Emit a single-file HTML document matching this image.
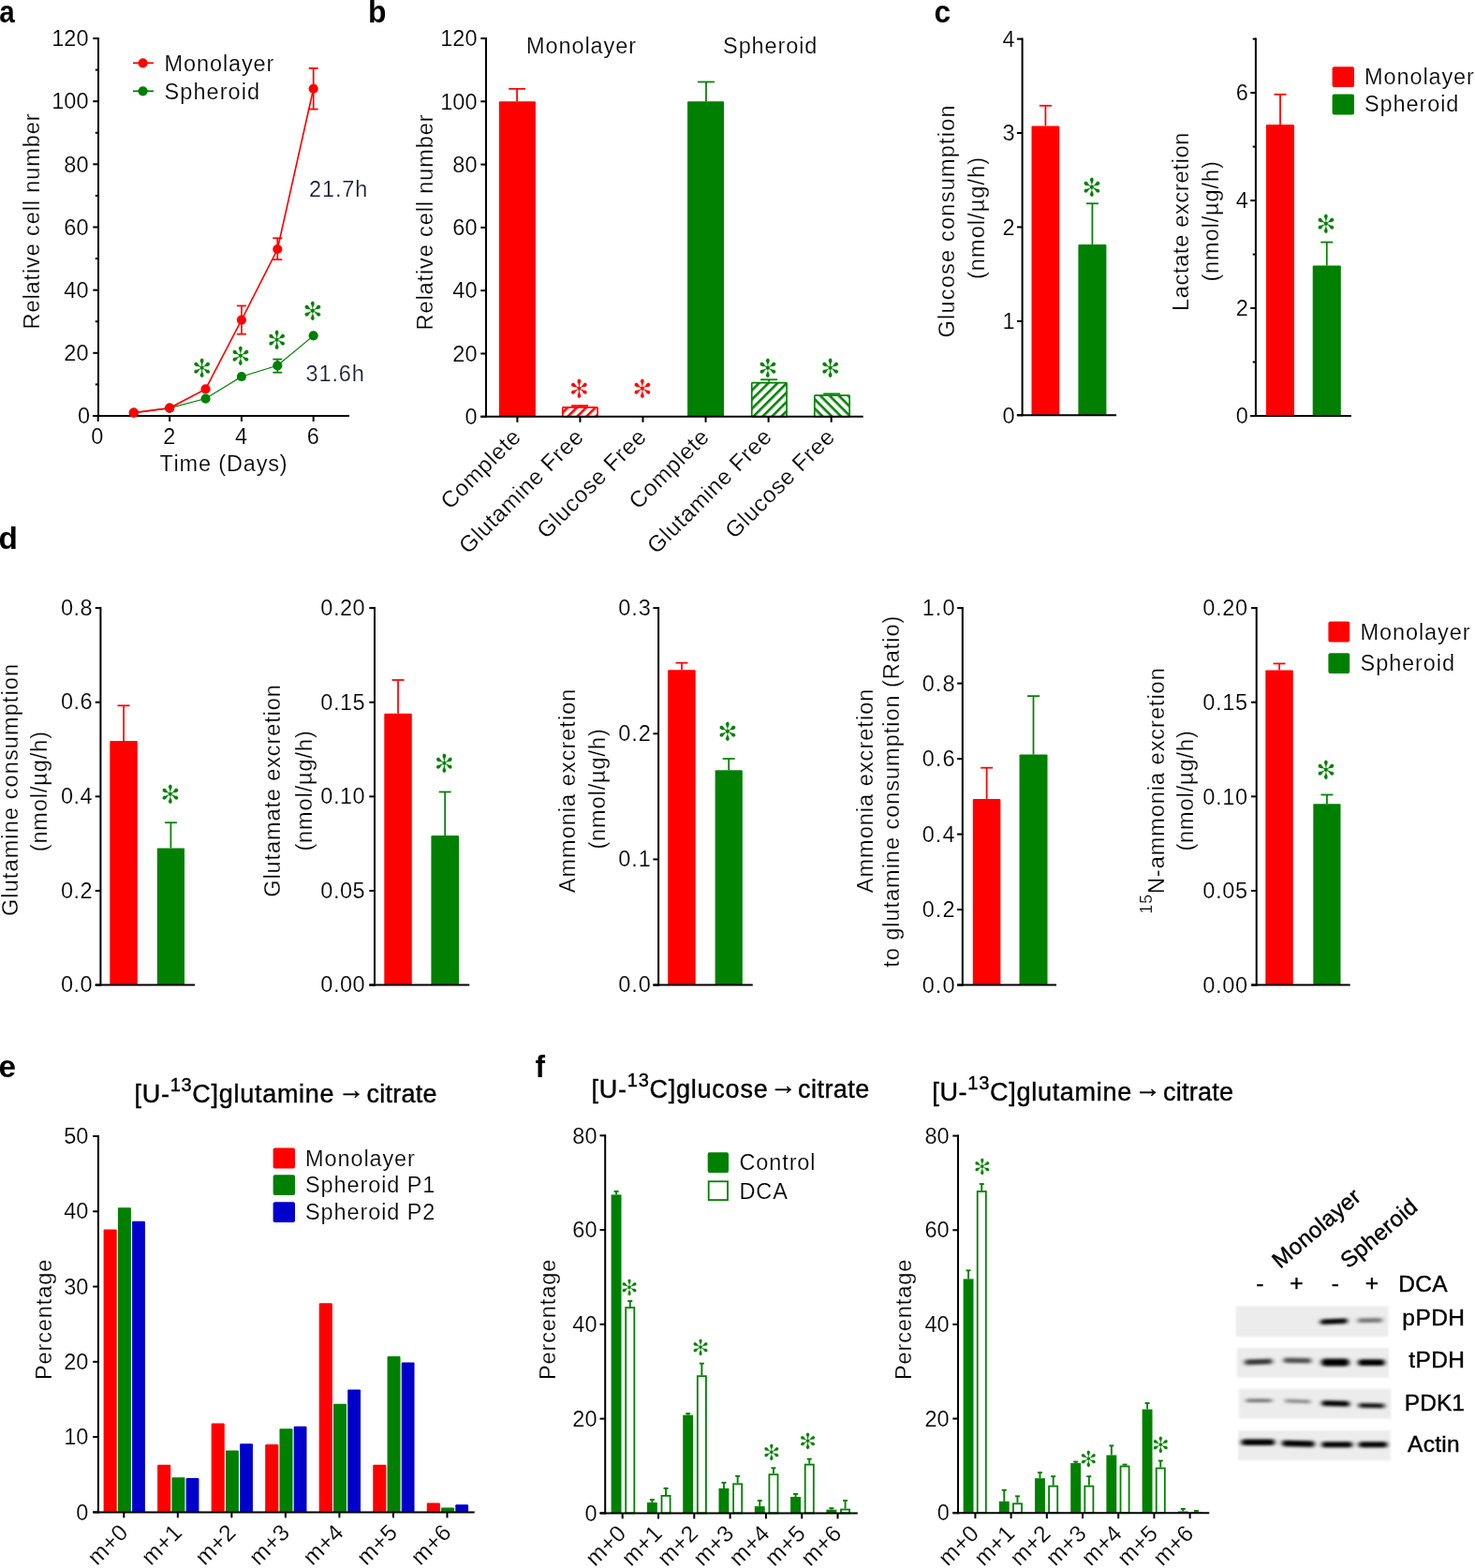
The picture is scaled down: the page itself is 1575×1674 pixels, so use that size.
<!DOCTYPE html>
<html lang="en"><head><meta charset="utf-8"><title>Figure</title>
<style>
html,body{margin:0;padding:0;background:#fff;}
body{width:1575px;height:1674px;overflow:hidden;}
svg{display:block;font-family:"Liberation Sans",Arial,Helvetica,sans-serif;font-kerning:none;}
.t{stroke:#fff;stroke-width:0.2px;paint-order:fill;}
</style></head><body>
<svg width="1575" height="1674" viewBox="0 0 1575 1674">
<rect width="1575" height="1674" fill="#fff"/>
<text transform="translate(-0.80 23.90) scale(0.87 1)" font-size="34" font-weight="bold" fill="#000">a</text>
<text transform="translate(393.00 24.00) scale(0.94 1)" font-size="34" font-weight="bold" fill="#000">b</text>
<text transform="translate(997.60 24.00) scale(0.93 1)" font-size="34" font-weight="bold" fill="#000">c</text>
<text transform="translate(-1.40 586.00) scale(0.98 1)" font-size="34" font-weight="bold" fill="#000">d</text>
<text transform="translate(-1.50 1150.20) scale(0.98 1)" font-size="34" font-weight="bold" fill="#000">e</text>
<text transform="translate(571.60 1150.20) scale(0.93 1)" font-size="34" font-weight="bold" fill="#000">f</text>
<defs>
<pattern id="hr" width="7" height="7" patternUnits="userSpaceOnUse" patternTransform="rotate(-45)"><rect width="7" height="7" fill="#fff"/><rect width="7" height="2.6" fill="#ff0000"/></pattern>
<pattern id="hg" width="7" height="7" patternUnits="userSpaceOnUse" patternTransform="rotate(-45)"><rect width="7" height="7" fill="#fff"/><rect width="7" height="2.6" fill="#008000"/></pattern>
<pattern id="hg2" width="7" height="7" patternUnits="userSpaceOnUse" patternTransform="rotate(45)"><rect width="7" height="7" fill="#fff"/><rect width="7" height="2.6" fill="#008000"/></pattern>
<filter id="bl" x="-30%" y="-300%" width="160%" height="700%"><feGaussianBlur stdDeviation="2.4 1.7"/></filter>
<filter id="bl2" x="-5%" y="-20%" width="110%" height="140%"><feGaussianBlur stdDeviation="0.8"/></filter>
</defs>
<line x1="105.00" y1="40.00" x2="105.00" y2="445.00" stroke="#000" stroke-width="2" />
<line x1="99.30" y1="376.83" x2="105.00" y2="376.83" stroke="#000" stroke-width="2" />
<text x="68.36" y="385.03" font-size="23.5" fill="#000" class="t">20</text>
<line x1="99.30" y1="309.67" x2="105.00" y2="309.67" stroke="#000" stroke-width="2" />
<text x="68.36" y="317.87" font-size="23.5" fill="#000" class="t">40</text>
<line x1="99.30" y1="242.50" x2="105.00" y2="242.50" stroke="#000" stroke-width="2" />
<text x="68.36" y="250.70" font-size="23.5" fill="#000" class="t">60</text>
<line x1="99.30" y1="175.33" x2="105.00" y2="175.33" stroke="#000" stroke-width="2" />
<text x="68.36" y="183.53" font-size="23.5" fill="#000" class="t">80</text>
<line x1="99.30" y1="108.17" x2="105.00" y2="108.17" stroke="#000" stroke-width="2" />
<text x="55.29" y="116.37" font-size="23.5" fill="#000" class="t">100</text>
<line x1="99.30" y1="41.00" x2="105.00" y2="41.00" stroke="#000" stroke-width="2" />
<text x="55.29" y="49.20" font-size="23.5" fill="#000" class="t">120</text>
<line x1="101.80" y1="410.42" x2="105.00" y2="410.42" stroke="#000" stroke-width="2" />
<line x1="101.80" y1="343.25" x2="105.00" y2="343.25" stroke="#000" stroke-width="2" />
<line x1="101.80" y1="276.08" x2="105.00" y2="276.08" stroke="#000" stroke-width="2" />
<line x1="101.80" y1="208.92" x2="105.00" y2="208.92" stroke="#000" stroke-width="2" />
<line x1="101.80" y1="141.75" x2="105.00" y2="141.75" stroke="#000" stroke-width="2" />
<line x1="101.80" y1="74.58" x2="105.00" y2="74.58" stroke="#000" stroke-width="2" />
<line x1="105.00" y1="40.00" x2="105.00" y2="445.00" stroke="#000" stroke-width="2" />
<line x1="99.30" y1="444.00" x2="105.00" y2="444.00" stroke="#000" stroke-width="2" />
<text x="82.93" y="452.20" font-size="23.5" fill="#000" class="t">0</text>
<line x1="99.30" y1="444.00" x2="373.00" y2="444.00" stroke="#000" stroke-width="2" />
<line x1="104.70" y1="444.00" x2="104.70" y2="450.00" stroke="#000" stroke-width="2" />
<line x1="181.16" y1="444.00" x2="181.16" y2="450.00" stroke="#000" stroke-width="2" />
<line x1="257.92" y1="444.00" x2="257.92" y2="450.00" stroke="#000" stroke-width="2" />
<line x1="334.68" y1="444.00" x2="334.68" y2="450.00" stroke="#000" stroke-width="2" />
<text x="97.37" y="474.00" font-size="23.5" fill="#000" class="t">0</text>
<text x="174.13" y="474.00" font-size="23.5" fill="#000" class="t">2</text>
<text x="250.89" y="474.00" font-size="23.5" fill="#000" class="t">4</text>
<text x="327.65" y="474.00" font-size="23.5" fill="#000" class="t">6</text>
<text x="170.38" y="502.80" font-size="23.5" fill="#000" letter-spacing="0.830" class="t">Time (Days)</text>
<text x="42.00" y="351.45" font-size="23.5" fill="#000" transform="rotate(-90 42.00 351.45)" letter-spacing="0.900" class="t">Relative cell number</text>
<polyline fill="none" stroke="#008000" stroke-width="1.25" points="142.78,440.64 181.16,435.60 219.54,425.53 257.92,402.02 296.30,390.27 334.68,358.36"/>
<circle cx="142.78" cy="440.64" r="5.1" fill="#008000"/>
<circle cx="181.16" cy="435.60" r="5.1" fill="#008000"/>
<circle cx="219.54" cy="425.53" r="5.1" fill="#008000"/>
<circle cx="257.92" cy="402.02" r="5.1" fill="#008000"/>
<line x1="296.30" y1="383.55" x2="296.30" y2="397.65" stroke="#008000" stroke-width="1.75" />
<line x1="291.30" y1="383.55" x2="301.30" y2="383.55" stroke="#008000" stroke-width="1.75" />
<line x1="291.30" y1="397.65" x2="301.30" y2="397.65" stroke="#008000" stroke-width="1.75" />
<circle cx="296.30" cy="390.27" r="5.1" fill="#008000"/>
<circle cx="334.68" cy="358.36" r="5.1" fill="#008000"/>
<polyline fill="none" stroke="#ff0000" stroke-width="1.65" points="142.78,440.64 181.16,435.60 219.54,415.45 257.92,341.57 296.30,266.01 334.68,94.73"/>
<circle cx="142.78" cy="440.64" r="5.1" fill="#ff0000"/>
<circle cx="181.16" cy="435.60" r="5.1" fill="#ff0000"/>
<circle cx="219.54" cy="415.45" r="5.1" fill="#ff0000"/>
<line x1="257.92" y1="326.46" x2="257.92" y2="356.68" stroke="#ff0000" stroke-width="1.75" />
<line x1="252.92" y1="326.46" x2="262.92" y2="326.46" stroke="#ff0000" stroke-width="1.75" />
<line x1="252.92" y1="356.68" x2="262.92" y2="356.68" stroke="#ff0000" stroke-width="1.75" />
<circle cx="257.92" cy="341.57" r="5.1" fill="#ff0000"/>
<line x1="296.30" y1="254.25" x2="296.30" y2="277.09" stroke="#ff0000" stroke-width="1.75" />
<line x1="291.30" y1="254.25" x2="301.30" y2="254.25" stroke="#ff0000" stroke-width="1.75" />
<line x1="291.30" y1="277.09" x2="301.30" y2="277.09" stroke="#ff0000" stroke-width="1.75" />
<circle cx="296.30" cy="266.01" r="5.1" fill="#ff0000"/>
<line x1="334.68" y1="72.90" x2="334.68" y2="116.56" stroke="#ff0000" stroke-width="1.75" />
<line x1="329.68" y1="72.90" x2="339.68" y2="72.90" stroke="#ff0000" stroke-width="1.75" />
<line x1="329.68" y1="116.56" x2="339.68" y2="116.56" stroke="#ff0000" stroke-width="1.75" />
<circle cx="334.68" cy="94.73" r="5.1" fill="#ff0000"/>
<text x="0" y="0" font-family="'DejaVu Sans',sans-serif" font-size="27.6" text-anchor="middle" fill="#008000" stroke="#fff" stroke-width="0.45" paint-order="fill" transform="translate(215.70 392.70) scale(0.92 1)" dy="9.94">✻</text>
<text x="0" y="0" font-family="'DejaVu Sans',sans-serif" font-size="27.6" text-anchor="middle" fill="#008000" stroke="#fff" stroke-width="0.45" paint-order="fill" transform="translate(257.00 379.70) scale(0.92 1)" dy="9.94">✻</text>
<text x="0" y="0" font-family="'DejaVu Sans',sans-serif" font-size="27.6" text-anchor="middle" fill="#008000" stroke="#fff" stroke-width="0.45" paint-order="fill" transform="translate(295.60 362.70) scale(0.92 1)" dy="9.94">✻</text>
<text x="0" y="0" font-family="'DejaVu Sans',sans-serif" font-size="27.6" text-anchor="middle" fill="#008000" stroke="#fff" stroke-width="0.45" paint-order="fill" transform="translate(333.80 332.50) scale(0.92 1)" dy="9.94">✻</text>
<line x1="142.00" y1="67.30" x2="164.00" y2="67.30" stroke="#ff0000" stroke-width="1.8" />
<circle cx="152.6" cy="67.3" r="5.1" fill="#ff0000"/>
<line x1="142.00" y1="97.30" x2="164.00" y2="97.30" stroke="#008000" stroke-width="1.8" />
<circle cx="152.6" cy="97.3" r="5.1" fill="#008000"/>
<text x="175.50" y="75.70" font-size="23.5" fill="#000" letter-spacing="0.900" class="t">Monolayer</text>
<text x="175.50" y="105.50" font-size="23.5" fill="#000" letter-spacing="1.071" class="t">Spheroid</text>
<text x="330.00" y="210.00" font-size="23.5" fill="#1a1a38" letter-spacing="0.900" class="t">21.7h</text>
<text x="326.50" y="406.50" font-size="23.5" fill="#1a1a38" letter-spacing="0.900" class="t">31.6h</text>
<line x1="552.10" y1="94.84" x2="552.10" y2="108.30" stroke="#ff0000" stroke-width="1.75" />
<line x1="543.10" y1="94.84" x2="561.10" y2="94.84" stroke="#ff0000" stroke-width="1.75" />
<line x1="753.95" y1="87.44" x2="753.95" y2="108.30" stroke="#008000" stroke-width="1.75" />
<line x1="744.95" y1="87.44" x2="762.95" y2="87.44" stroke="#008000" stroke-width="1.75" />
<rect x="532.90" y="108.30" width="39.00" height="336.50" fill="#ff0000" rx="1"/>
<rect x="734.05" y="108.30" width="39.00" height="336.50" fill="#008000" rx="1"/>
<line x1="619.15" y1="433.02" x2="619.15" y2="434.03" stroke="#ff0000" stroke-width="1.75" />
<line x1="610.15" y1="433.02" x2="628.15" y2="433.02" stroke="#ff0000" stroke-width="1.75" />
<rect x="600.80" y="434.88" width="37.30" height="9.92" fill="url(#hr)" stroke="#ff0000" stroke-width="1.7" rx="0.8"/>
<line x1="821.10" y1="405.26" x2="821.10" y2="407.79" stroke="#008000" stroke-width="1.75" />
<line x1="812.10" y1="405.26" x2="830.10" y2="405.26" stroke="#008000" stroke-width="1.75" />
<rect x="802.75" y="408.64" width="37.30" height="36.16" fill="url(#hg)" stroke="#008000" stroke-width="1.7" rx="0.8"/>
<line x1="888.15" y1="420.40" x2="888.15" y2="421.25" stroke="#008000" stroke-width="1.75" />
<line x1="879.15" y1="420.40" x2="897.15" y2="420.40" stroke="#008000" stroke-width="1.75" />
<rect x="869.80" y="422.10" width="37.30" height="22.71" fill="url(#hg2)" stroke="#008000" stroke-width="1.7" rx="0.8"/>
<line x1="519.00" y1="40.00" x2="519.00" y2="445.80" stroke="#000" stroke-width="2" />
<line x1="513.30" y1="444.80" x2="519.00" y2="444.80" stroke="#000" stroke-width="2" />
<text x="496.43" y="453.00" font-size="23.5" fill="#000" class="t">0</text>
<line x1="513.30" y1="377.50" x2="519.00" y2="377.50" stroke="#000" stroke-width="2" />
<text x="483.36" y="385.70" font-size="23.5" fill="#000" class="t">20</text>
<line x1="513.30" y1="310.20" x2="519.00" y2="310.20" stroke="#000" stroke-width="2" />
<text x="483.36" y="318.40" font-size="23.5" fill="#000" class="t">40</text>
<line x1="513.30" y1="242.90" x2="519.00" y2="242.90" stroke="#000" stroke-width="2" />
<text x="483.36" y="251.10" font-size="23.5" fill="#000" class="t">60</text>
<line x1="513.30" y1="175.60" x2="519.00" y2="175.60" stroke="#000" stroke-width="2" />
<text x="483.36" y="183.80" font-size="23.5" fill="#000" class="t">80</text>
<line x1="513.30" y1="108.30" x2="519.00" y2="108.30" stroke="#000" stroke-width="2" />
<text x="470.29" y="116.50" font-size="23.5" fill="#000" class="t">100</text>
<line x1="513.30" y1="41.00" x2="519.00" y2="41.00" stroke="#000" stroke-width="2" />
<text x="470.29" y="49.20" font-size="23.5" fill="#000" class="t">120</text>
<line x1="513.30" y1="444.80" x2="921.70" y2="444.80" stroke="#000" stroke-width="2" />
<line x1="552.40" y1="444.80" x2="552.40" y2="450.80" stroke="#000" stroke-width="2" />
<line x1="619.45" y1="444.80" x2="619.45" y2="450.80" stroke="#000" stroke-width="2" />
<line x1="686.50" y1="444.80" x2="686.50" y2="450.80" stroke="#000" stroke-width="2" />
<line x1="753.55" y1="444.80" x2="753.55" y2="450.80" stroke="#000" stroke-width="2" />
<line x1="820.60" y1="444.80" x2="820.60" y2="450.80" stroke="#000" stroke-width="2" />
<line x1="887.65" y1="444.80" x2="887.65" y2="450.80" stroke="#000" stroke-width="2" />
<text x="562.09" y="57.00" font-size="23.5" fill="#000" letter-spacing="0.900" class="t">Monolayer</text>
<text x="772.07" y="57.00" font-size="23.5" fill="#000" letter-spacing="0.900" class="t">Spheroid</text>
<text x="462.00" y="352.45" font-size="23.5" fill="#000" transform="rotate(-90 462.00 352.45)" letter-spacing="0.900" class="t">Relative cell number</text>
<text x="480.48" y="544.82" font-size="24.3" fill="#000" transform="rotate(-45 480.48 544.82)" letter-spacing="0.650" class="t">Complete</text>
<text x="499.90" y="592.45" font-size="24.3" fill="#000" transform="rotate(-45 499.90 592.45)" letter-spacing="0.650" class="t">Glutamine Free</text>
<text x="583.15" y="576.25" font-size="24.3" fill="#000" transform="rotate(-45 583.15 576.25)" letter-spacing="0.650" class="t">Glucose Free</text>
<text x="681.63" y="544.82" font-size="24.3" fill="#000" transform="rotate(-45 681.63 544.82)" letter-spacing="0.650" class="t">Complete</text>
<text x="701.05" y="592.45" font-size="24.3" fill="#000" transform="rotate(-45 701.05 592.45)" letter-spacing="0.650" class="t">Glutamine Free</text>
<text x="784.30" y="576.25" font-size="24.3" fill="#000" transform="rotate(-45 784.30 576.25)" letter-spacing="0.650" class="t">Glucose Free</text>
<text x="0" y="0" font-family="'DejaVu Sans',sans-serif" font-size="27.6" text-anchor="middle" fill="#ff0000" stroke="#fff" stroke-width="0.45" paint-order="fill" transform="translate(618.50 414.70) scale(0.92 1)" dy="9.94">✻</text>
<text x="0" y="0" font-family="'DejaVu Sans',sans-serif" font-size="27.6" text-anchor="middle" fill="#ff0000" stroke="#fff" stroke-width="0.45" paint-order="fill" transform="translate(685.90 414.70) scale(0.92 1)" dy="9.94">✻</text>
<text x="0" y="0" font-family="'DejaVu Sans',sans-serif" font-size="27.6" text-anchor="middle" fill="#008000" stroke="#fff" stroke-width="0.45" paint-order="fill" transform="translate(820.00 393.20) scale(0.92 1)" dy="9.94">✻</text>
<text x="0" y="0" font-family="'DejaVu Sans',sans-serif" font-size="27.6" text-anchor="middle" fill="#008000" stroke="#fff" stroke-width="0.45" paint-order="fill" transform="translate(886.70 393.20) scale(0.92 1)" dy="9.94">✻</text>
<line x1="1116.40" y1="112.80" x2="1116.40" y2="134.40" stroke="#ff0000" stroke-width="1.75" />
<line x1="1109.90" y1="112.80" x2="1122.90" y2="112.80" stroke="#ff0000" stroke-width="1.75" />
<line x1="1166.40" y1="217.25" x2="1166.40" y2="260.93" stroke="#008000" stroke-width="1.75" />
<line x1="1159.90" y1="217.25" x2="1172.90" y2="217.25" stroke="#008000" stroke-width="1.75" />
<rect x="1101.50" y="134.40" width="29.80" height="308.90" fill="#ff0000" rx="1"/>
<rect x="1151.40" y="260.93" width="30.00" height="182.37" fill="#008000" rx="1"/>
<line x1="1091.60" y1="40.60" x2="1091.60" y2="444.30" stroke="#000" stroke-width="2" />
<line x1="1085.90" y1="443.30" x2="1091.60" y2="443.30" stroke="#000" stroke-width="2" />
<text x="1070.53" y="451.50" font-size="23.5" fill="#000" class="t">0</text>
<line x1="1085.90" y1="342.88" x2="1091.60" y2="342.88" stroke="#000" stroke-width="2" />
<text x="1070.53" y="351.07" font-size="23.5" fill="#000" class="t">1</text>
<line x1="1085.90" y1="242.45" x2="1091.60" y2="242.45" stroke="#000" stroke-width="2" />
<text x="1070.53" y="250.65" font-size="23.5" fill="#000" class="t">2</text>
<line x1="1085.90" y1="142.03" x2="1091.60" y2="142.03" stroke="#000" stroke-width="2" />
<text x="1070.53" y="150.23" font-size="23.5" fill="#000" class="t">3</text>
<line x1="1085.90" y1="41.60" x2="1091.60" y2="41.60" stroke="#000" stroke-width="2" />
<text x="1070.53" y="49.80" font-size="23.5" fill="#000" class="t">4</text>
<line x1="1085.90" y1="443.30" x2="1192.00" y2="443.30" stroke="#000" stroke-width="2" />
<text x="0" y="0" font-family="'DejaVu Sans',sans-serif" font-size="27.6" text-anchor="middle" fill="#008000" stroke="#fff" stroke-width="0.45" paint-order="fill" transform="translate(1165.90 200.50) scale(0.92 1)" dy="9.94">✻</text>
<text x="1019.50" y="360.54" font-size="23.5" fill="#000" transform="rotate(-90 1019.50 360.54)" letter-spacing="1.233" class="t">Glucose consumption</text>
<text x="1051.50" y="298.11" font-size="23.5" fill="#000" transform="rotate(-90 1051.50 298.11)" letter-spacing="1.090" class="t">(nmol/µg/h)</text>
<line x1="1367.00" y1="100.79" x2="1367.00" y2="132.98" stroke="#ff0000" stroke-width="1.75" />
<line x1="1360.50" y1="100.79" x2="1373.50" y2="100.79" stroke="#ff0000" stroke-width="1.75" />
<line x1="1416.75" y1="258.58" x2="1416.75" y2="283.59" stroke="#008000" stroke-width="1.75" />
<line x1="1410.25" y1="258.58" x2="1423.25" y2="258.58" stroke="#008000" stroke-width="1.75" />
<rect x="1352.00" y="132.98" width="30.00" height="311.02" fill="#ff0000" rx="1"/>
<rect x="1401.70" y="283.59" width="30.10" height="160.41" fill="#008000" rx="1"/>
<line x1="1340.90" y1="40.60" x2="1340.90" y2="445.00" stroke="#000" stroke-width="2" />
<line x1="1335.20" y1="444.00" x2="1340.90" y2="444.00" stroke="#000" stroke-width="2" />
<text x="1319.83" y="452.20" font-size="23.5" fill="#000" class="t">0</text>
<line x1="1335.20" y1="329.03" x2="1340.90" y2="329.03" stroke="#000" stroke-width="2" />
<text x="1319.83" y="337.23" font-size="23.5" fill="#000" class="t">2</text>
<line x1="1335.20" y1="214.06" x2="1340.90" y2="214.06" stroke="#000" stroke-width="2" />
<text x="1319.83" y="222.26" font-size="23.5" fill="#000" class="t">4</text>
<line x1="1335.20" y1="99.09" x2="1340.90" y2="99.09" stroke="#000" stroke-width="2" />
<text x="1319.83" y="107.29" font-size="23.5" fill="#000" class="t">6</text>
<line x1="1337.70" y1="386.51" x2="1340.90" y2="386.51" stroke="#000" stroke-width="2" />
<line x1="1337.70" y1="271.54" x2="1340.90" y2="271.54" stroke="#000" stroke-width="2" />
<line x1="1337.70" y1="156.57" x2="1340.90" y2="156.57" stroke="#000" stroke-width="2" />
<line x1="1337.70" y1="41.60" x2="1340.90" y2="41.60" stroke="#000" stroke-width="2" />
<line x1="1335.20" y1="444.00" x2="1442.80" y2="444.00" stroke="#000" stroke-width="2" />
<text x="0" y="0" font-family="'DejaVu Sans',sans-serif" font-size="27.6" text-anchor="middle" fill="#008000" stroke="#fff" stroke-width="0.45" paint-order="fill" transform="translate(1415.80 238.70) scale(0.92 1)" dy="9.94">✻</text>
<text x="1269.00" y="332.03" font-size="23.5" fill="#000" transform="rotate(-90 1269.00 332.03)" letter-spacing="0.713" class="t">Lactate excretion</text>
<text x="1301.00" y="300.61" font-size="23.5" fill="#000" transform="rotate(-90 1301.00 300.61)" letter-spacing="0.900" class="t">(nmol/µg/h)</text>
<rect x="1422.60" y="71.20" width="23.40" height="21.80" fill="#ff0000" rx="2"/>
<text x="1457.00" y="90.30" font-size="23.5" fill="#000" letter-spacing="0.900" class="t">Monolayer</text>
<rect x="1422.60" y="100.60" width="23.40" height="21.80" fill="#008000" rx="2"/>
<text x="1457.00" y="118.90" font-size="23.5" fill="#000" letter-spacing="0.900" class="t">Spheroid</text>
<line x1="132.05" y1="753.28" x2="132.05" y2="791.07" stroke="#ff0000" stroke-width="1.75" />
<line x1="125.55" y1="753.28" x2="138.55" y2="753.28" stroke="#ff0000" stroke-width="1.75" />
<line x1="182.40" y1="878.21" x2="182.40" y2="905.42" stroke="#008000" stroke-width="1.75" />
<line x1="175.90" y1="878.21" x2="188.90" y2="878.21" stroke="#008000" stroke-width="1.75" />
<rect x="117.30" y="791.07" width="29.50" height="260.53" fill="#ff0000" rx="1"/>
<rect x="167.80" y="905.42" width="29.20" height="146.18" fill="#008000" rx="1"/>
<line x1="107.40" y1="648.10" x2="107.40" y2="1052.60" stroke="#000" stroke-width="2" />
<line x1="101.70" y1="1051.60" x2="107.40" y2="1051.60" stroke="#000" stroke-width="2" />
<text x="64.93" y="1059.20" font-size="23.5" fill="#000" letter-spacing="0.500" class="t">0.0</text>
<line x1="101.70" y1="950.97" x2="107.40" y2="950.97" stroke="#000" stroke-width="2" />
<text x="64.93" y="958.57" font-size="23.5" fill="#000" letter-spacing="0.500" class="t">0.2</text>
<line x1="101.70" y1="850.35" x2="107.40" y2="850.35" stroke="#000" stroke-width="2" />
<text x="64.93" y="857.95" font-size="23.5" fill="#000" letter-spacing="0.500" class="t">0.4</text>
<line x1="101.70" y1="749.73" x2="107.40" y2="749.73" stroke="#000" stroke-width="2" />
<text x="64.93" y="757.33" font-size="23.5" fill="#000" letter-spacing="0.500" class="t">0.6</text>
<line x1="101.70" y1="649.10" x2="107.40" y2="649.10" stroke="#000" stroke-width="2" />
<text x="64.93" y="656.70" font-size="23.5" fill="#000" letter-spacing="0.500" class="t">0.8</text>
<line x1="101.70" y1="1051.60" x2="208.00" y2="1051.60" stroke="#000" stroke-width="2" />
<text x="0" y="0" font-family="'DejaVu Sans',sans-serif" font-size="27.6" text-anchor="middle" fill="#008000" stroke="#fff" stroke-width="0.45" paint-order="fill" transform="translate(182.00 847.70) scale(0.92 1)" dy="9.94">✻</text>
<text x="19.00" y="978.09" font-size="23.5" fill="#000" transform="rotate(-90 19.00 978.09)" letter-spacing="1.115" class="t">Glutamine consumption</text>
<text x="49.70" y="909.31" font-size="23.5" fill="#000" transform="rotate(-90 49.70 909.31)" letter-spacing="0.900" class="t">(nmol/µg/h)</text>
<line x1="425.05" y1="725.98" x2="425.05" y2="761.65" stroke="#ff0000" stroke-width="1.75" />
<line x1="418.55" y1="725.98" x2="431.55" y2="725.98" stroke="#ff0000" stroke-width="1.75" />
<line x1="475.20" y1="845.47" x2="475.20" y2="892.02" stroke="#008000" stroke-width="1.75" />
<line x1="468.70" y1="845.47" x2="481.70" y2="845.47" stroke="#008000" stroke-width="1.75" />
<rect x="410.30" y="761.65" width="29.50" height="289.95" fill="#ff0000" rx="1"/>
<rect x="460.40" y="892.02" width="29.60" height="159.58" fill="#008000" rx="1"/>
<line x1="400.00" y1="648.10" x2="400.00" y2="1052.60" stroke="#000" stroke-width="2" />
<line x1="394.30" y1="1051.60" x2="400.00" y2="1051.60" stroke="#000" stroke-width="2" />
<text x="342.36" y="1059.40" font-size="23.5" fill="#000" letter-spacing="0.500" class="t">0.00</text>
<line x1="394.30" y1="950.97" x2="400.00" y2="950.97" stroke="#000" stroke-width="2" />
<text x="342.36" y="958.77" font-size="23.5" fill="#000" letter-spacing="0.500" class="t">0.05</text>
<line x1="394.30" y1="850.35" x2="400.00" y2="850.35" stroke="#000" stroke-width="2" />
<text x="342.36" y="858.15" font-size="23.5" fill="#000" letter-spacing="0.500" class="t">0.10</text>
<line x1="394.30" y1="749.73" x2="400.00" y2="749.73" stroke="#000" stroke-width="2" />
<text x="342.36" y="757.52" font-size="23.5" fill="#000" letter-spacing="0.500" class="t">0.15</text>
<line x1="394.30" y1="649.10" x2="400.00" y2="649.10" stroke="#000" stroke-width="2" />
<text x="342.36" y="656.90" font-size="23.5" fill="#000" letter-spacing="0.500" class="t">0.20</text>
<line x1="394.30" y1="1051.60" x2="501.30" y2="1051.60" stroke="#000" stroke-width="2" />
<text x="0" y="0" font-family="'DejaVu Sans',sans-serif" font-size="27.6" text-anchor="middle" fill="#008000" stroke="#fff" stroke-width="0.45" paint-order="fill" transform="translate(474.30 815.00) scale(0.92 1)" dy="9.94">✻</text>
<text x="298.70" y="957.70" font-size="23.5" fill="#000" transform="rotate(-90 298.70 957.70)" letter-spacing="0.900" class="t">Glutamate excretion</text>
<text x="333.00" y="908.61" font-size="23.5" fill="#000" transform="rotate(-90 333.00 908.61)" letter-spacing="0.900" class="t">(nmol/µg/h)</text>
<line x1="727.95" y1="707.64" x2="727.95" y2="715.17" stroke="#ff0000" stroke-width="1.75" />
<line x1="721.45" y1="707.64" x2="734.45" y2="707.64" stroke="#ff0000" stroke-width="1.75" />
<line x1="778.20" y1="810.01" x2="778.20" y2="822.23" stroke="#008000" stroke-width="1.75" />
<line x1="771.70" y1="810.01" x2="784.70" y2="810.01" stroke="#008000" stroke-width="1.75" />
<rect x="713.20" y="715.17" width="29.50" height="336.43" fill="#ff0000" rx="1"/>
<rect x="763.60" y="822.23" width="29.20" height="229.37" fill="#008000" rx="1"/>
<line x1="703.10" y1="648.10" x2="703.10" y2="1052.60" stroke="#000" stroke-width="2" />
<line x1="697.40" y1="1051.60" x2="703.10" y2="1051.60" stroke="#000" stroke-width="2" />
<text x="660.33" y="1059.40" font-size="23.5" fill="#000" letter-spacing="0.900" class="t">0.0</text>
<line x1="697.40" y1="917.43" x2="703.10" y2="917.43" stroke="#000" stroke-width="2" />
<text x="660.33" y="925.23" font-size="23.5" fill="#000" letter-spacing="0.900" class="t">0.1</text>
<line x1="697.40" y1="783.27" x2="703.10" y2="783.27" stroke="#000" stroke-width="2" />
<text x="660.33" y="791.07" font-size="23.5" fill="#000" letter-spacing="0.900" class="t">0.2</text>
<line x1="697.40" y1="649.10" x2="703.10" y2="649.10" stroke="#000" stroke-width="2" />
<text x="660.33" y="656.90" font-size="23.5" fill="#000" letter-spacing="0.900" class="t">0.3</text>
<line x1="697.40" y1="1051.60" x2="803.80" y2="1051.60" stroke="#000" stroke-width="2" />
<text x="0" y="0" font-family="'DejaVu Sans',sans-serif" font-size="27.6" text-anchor="middle" fill="#008000" stroke="#fff" stroke-width="0.45" paint-order="fill" transform="translate(776.80 780.70) scale(0.92 1)" dy="9.94">✻</text>
<text x="613.80" y="953.22" font-size="23.5" fill="#000" transform="rotate(-90 613.80 953.22)" letter-spacing="1.025" class="t">Ammonia excretion</text>
<text x="646.00" y="906.61" font-size="23.5" fill="#000" transform="rotate(-90 646.00 906.61)" letter-spacing="0.900" class="t">(nmol/µg/h)</text>
<line x1="1053.60" y1="819.68" x2="1053.60" y2="852.93" stroke="#ff0000" stroke-width="1.75" />
<line x1="1047.10" y1="819.68" x2="1060.10" y2="819.68" stroke="#ff0000" stroke-width="1.75" />
<line x1="1103.50" y1="743.11" x2="1103.50" y2="805.57" stroke="#008000" stroke-width="1.75" />
<line x1="1097.00" y1="743.11" x2="1110.00" y2="743.11" stroke="#008000" stroke-width="1.75" />
<rect x="1038.80" y="852.93" width="29.60" height="198.67" fill="#ff0000" rx="1"/>
<rect x="1088.50" y="805.57" width="30.00" height="246.03" fill="#008000" rx="1"/>
<line x1="1027.80" y1="648.10" x2="1027.80" y2="1052.60" stroke="#000" stroke-width="2" />
<line x1="1022.10" y1="1051.60" x2="1027.80" y2="1051.60" stroke="#000" stroke-width="2" />
<text x="984.63" y="1059.80" font-size="23.5" fill="#000" letter-spacing="1.150" class="t">0.0</text>
<line x1="1022.10" y1="971.10" x2="1027.80" y2="971.10" stroke="#000" stroke-width="2" />
<text x="984.63" y="979.30" font-size="23.5" fill="#000" letter-spacing="1.150" class="t">0.2</text>
<line x1="1022.10" y1="890.60" x2="1027.80" y2="890.60" stroke="#000" stroke-width="2" />
<text x="984.63" y="898.80" font-size="23.5" fill="#000" letter-spacing="1.150" class="t">0.4</text>
<line x1="1022.10" y1="810.10" x2="1027.80" y2="810.10" stroke="#000" stroke-width="2" />
<text x="984.63" y="818.30" font-size="23.5" fill="#000" letter-spacing="1.150" class="t">0.6</text>
<line x1="1022.10" y1="729.60" x2="1027.80" y2="729.60" stroke="#000" stroke-width="2" />
<text x="984.63" y="737.80" font-size="23.5" fill="#000" letter-spacing="1.150" class="t">0.8</text>
<line x1="1022.10" y1="649.10" x2="1027.80" y2="649.10" stroke="#000" stroke-width="2" />
<text x="984.63" y="657.30" font-size="23.5" fill="#000" letter-spacing="1.150" class="t">1.0</text>
<line x1="1022.10" y1="1051.60" x2="1128.00" y2="1051.60" stroke="#000" stroke-width="2" />
<text x="931.70" y="953.22" font-size="23.5" fill="#000" transform="rotate(-90 931.70 953.22)" letter-spacing="1.025" class="t">Ammonia excretion</text>
<text x="960.00" y="1032.82" font-size="23.5" fill="#000" transform="rotate(-90 960.00 1032.82)" letter-spacing="0.981" class="t">to glutamine consumption (Ratio)</text>
<line x1="1366.05" y1="708.45" x2="1366.05" y2="715.50" stroke="#ff0000" stroke-width="1.75" />
<line x1="1359.55" y1="708.45" x2="1372.55" y2="708.45" stroke="#ff0000" stroke-width="1.75" />
<line x1="1416.90" y1="848.49" x2="1416.90" y2="858.37" stroke="#008000" stroke-width="1.75" />
<line x1="1410.40" y1="848.49" x2="1423.40" y2="848.49" stroke="#008000" stroke-width="1.75" />
<rect x="1351.30" y="715.50" width="29.50" height="336.10" fill="#ff0000" rx="1"/>
<rect x="1402.30" y="858.37" width="29.20" height="193.23" fill="#008000" rx="1"/>
<line x1="1341.70" y1="648.10" x2="1341.70" y2="1052.60" stroke="#000" stroke-width="2" />
<line x1="1336.00" y1="1051.60" x2="1341.70" y2="1051.60" stroke="#000" stroke-width="2" />
<text x="1284.16" y="1059.80" font-size="23.5" fill="#000" letter-spacing="0.733" class="t">0.00</text>
<line x1="1336.00" y1="950.97" x2="1341.70" y2="950.97" stroke="#000" stroke-width="2" />
<text x="1284.16" y="959.17" font-size="23.5" fill="#000" letter-spacing="0.733" class="t">0.05</text>
<line x1="1336.00" y1="850.35" x2="1341.70" y2="850.35" stroke="#000" stroke-width="2" />
<text x="1284.16" y="858.55" font-size="23.5" fill="#000" letter-spacing="0.733" class="t">0.10</text>
<line x1="1336.00" y1="749.73" x2="1341.70" y2="749.73" stroke="#000" stroke-width="2" />
<text x="1284.16" y="757.93" font-size="23.5" fill="#000" letter-spacing="0.733" class="t">0.15</text>
<line x1="1336.00" y1="649.10" x2="1341.70" y2="649.10" stroke="#000" stroke-width="2" />
<text x="1284.16" y="657.30" font-size="23.5" fill="#000" letter-spacing="0.733" class="t">0.20</text>
<line x1="1336.00" y1="1051.60" x2="1441.70" y2="1051.60" stroke="#000" stroke-width="2" />
<text x="0" y="0" font-family="'DejaVu Sans',sans-serif" font-size="27.6" text-anchor="middle" fill="#008000" stroke="#fff" stroke-width="0.45" paint-order="fill" transform="translate(1416.00 822.10) scale(0.92 1)" dy="9.94">✻</text>
<text x="1243.00" y="975.48" font-size="23.5" fill="#000" transform="rotate(-90 1243.00 975.48)" letter-spacing="0.970" class="t"><tspan font-size="17.5" dy="-13.2">15</tspan><tspan dy="13.2">N-ammonia excretion</tspan></text>
<text x="1274.50" y="908.61" font-size="23.5" fill="#000" transform="rotate(-90 1274.50 908.61)" letter-spacing="0.900" class="t">(nmol/µg/h)</text>
<rect x="1418.40" y="663.60" width="22.80" height="21.80" fill="#ff0000" rx="2"/>
<text x="1452.60" y="683.20" font-size="23.5" fill="#000" letter-spacing="0.900" class="t">Monolayer</text>
<rect x="1418.40" y="697.20" width="22.80" height="21.80" fill="#008000" rx="2"/>
<text x="1452.60" y="715.80" font-size="23.5" fill="#000" letter-spacing="0.900" class="t">Spheroid</text>
<rect x="110.60" y="1312.50" width="14.10" height="301.90" fill="#ff0000" rx="1"/>
<rect x="125.90" y="1289.23" width="14.00" height="325.17" fill="#008000" rx="1"/>
<rect x="141.10" y="1303.67" width="13.80" height="310.73" fill="#0000cc" rx="1"/>
<rect x="168.13" y="1563.65" width="14.10" height="50.75" fill="#ff0000" rx="1"/>
<rect x="183.43" y="1577.29" width="14.00" height="37.11" fill="#008000" rx="1"/>
<rect x="198.63" y="1578.09" width="13.80" height="36.31" fill="#0000cc" rx="1"/>
<rect x="225.66" y="1519.52" width="14.10" height="94.88" fill="#ff0000" rx="1"/>
<rect x="240.96" y="1548.40" width="14.00" height="66.00" fill="#008000" rx="1"/>
<rect x="256.16" y="1541.18" width="13.80" height="73.22" fill="#0000cc" rx="1"/>
<rect x="283.19" y="1541.98" width="14.10" height="72.42" fill="#ff0000" rx="1"/>
<rect x="298.49" y="1525.13" width="14.00" height="89.27" fill="#008000" rx="1"/>
<rect x="313.69" y="1522.73" width="13.80" height="91.67" fill="#0000cc" rx="1"/>
<rect x="340.72" y="1391.13" width="14.10" height="223.27" fill="#ff0000" rx="1"/>
<rect x="356.02" y="1498.65" width="14.00" height="115.75" fill="#008000" rx="1"/>
<rect x="371.22" y="1483.41" width="13.80" height="130.99" fill="#0000cc" rx="1"/>
<rect x="398.25" y="1563.65" width="14.10" height="50.75" fill="#ff0000" rx="1"/>
<rect x="413.55" y="1448.10" width="14.00" height="166.30" fill="#008000" rx="1"/>
<rect x="428.75" y="1454.52" width="13.80" height="159.88" fill="#0000cc" rx="1"/>
<rect x="455.78" y="1604.57" width="14.10" height="9.83" fill="#ff0000" rx="1"/>
<rect x="471.08" y="1609.39" width="14.00" height="5.01" fill="#008000" rx="1"/>
<rect x="486.28" y="1606.18" width="13.80" height="8.22" fill="#0000cc" rx="1"/>
<line x1="104.90" y1="1212.00" x2="104.90" y2="1615.40" stroke="#000" stroke-width="2" />
<line x1="99.20" y1="1614.40" x2="104.90" y2="1614.40" stroke="#000" stroke-width="2" />
<text x="81.33" y="1622.60" font-size="23.5" fill="#000" class="t">0</text>
<line x1="99.20" y1="1534.12" x2="104.90" y2="1534.12" stroke="#000" stroke-width="2" />
<text x="68.26" y="1542.32" font-size="23.5" fill="#000" class="t">10</text>
<line x1="99.20" y1="1453.84" x2="104.90" y2="1453.84" stroke="#000" stroke-width="2" />
<text x="68.26" y="1462.04" font-size="23.5" fill="#000" class="t">20</text>
<line x1="99.20" y1="1373.56" x2="104.90" y2="1373.56" stroke="#000" stroke-width="2" />
<text x="68.26" y="1381.76" font-size="23.5" fill="#000" class="t">30</text>
<line x1="99.20" y1="1293.28" x2="104.90" y2="1293.28" stroke="#000" stroke-width="2" />
<text x="68.26" y="1301.48" font-size="23.5" fill="#000" class="t">40</text>
<line x1="99.20" y1="1213.00" x2="104.90" y2="1213.00" stroke="#000" stroke-width="2" />
<text x="68.26" y="1221.20" font-size="23.5" fill="#000" class="t">50</text>
<line x1="99.20" y1="1614.40" x2="506.70" y2="1614.40" stroke="#000" stroke-width="2" />
<line x1="132.30" y1="1614.40" x2="132.30" y2="1620.40" stroke="#000" stroke-width="2" />
<line x1="189.83" y1="1614.40" x2="189.83" y2="1620.40" stroke="#000" stroke-width="2" />
<line x1="247.36" y1="1614.40" x2="247.36" y2="1620.40" stroke="#000" stroke-width="2" />
<line x1="304.89" y1="1614.40" x2="304.89" y2="1620.40" stroke="#000" stroke-width="2" />
<line x1="362.42" y1="1614.40" x2="362.42" y2="1620.40" stroke="#000" stroke-width="2" />
<line x1="419.95" y1="1614.40" x2="419.95" y2="1620.40" stroke="#000" stroke-width="2" />
<line x1="477.48" y1="1614.40" x2="477.48" y2="1620.40" stroke="#000" stroke-width="2" />
<text x="103.48" y="1672.32" font-size="24.5" fill="#000" transform="rotate(-45 103.48 1672.32)" letter-spacing="0.300" class="t">m+0</text>
<text x="161.01" y="1672.32" font-size="24.5" fill="#000" transform="rotate(-45 161.01 1672.32)" letter-spacing="0.300" class="t">m+1</text>
<text x="218.54" y="1672.32" font-size="24.5" fill="#000" transform="rotate(-45 218.54 1672.32)" letter-spacing="0.300" class="t">m+2</text>
<text x="276.07" y="1672.32" font-size="24.5" fill="#000" transform="rotate(-45 276.07 1672.32)" letter-spacing="0.300" class="t">m+3</text>
<text x="333.60" y="1672.32" font-size="24.5" fill="#000" transform="rotate(-45 333.60 1672.32)" letter-spacing="0.300" class="t">m+4</text>
<text x="391.13" y="1672.32" font-size="24.5" fill="#000" transform="rotate(-45 391.13 1672.32)" letter-spacing="0.300" class="t">m+5</text>
<text x="448.66" y="1672.32" font-size="24.5" fill="#000" transform="rotate(-45 448.66 1672.32)" letter-spacing="0.300" class="t">m+6</text>
<text x="55.50" y="1473.10" font-size="23.5" fill="#000" transform="rotate(-90 55.50 1473.10)" letter-spacing="0.900" class="t">Percentage</text>
<rect x="291.60" y="1225.60" width="23.40" height="21.80" fill="#ff0000" rx="2"/>
<text x="326.00" y="1245.00" font-size="23.5" fill="#000" letter-spacing="0.900" class="t">Monolayer</text>
<rect x="291.60" y="1254.30" width="23.40" height="21.80" fill="#008000" rx="2"/>
<text x="326.00" y="1273.10" font-size="23.5" fill="#000" letter-spacing="0.900" class="t">Spheroid P1</text>
<rect x="291.60" y="1283.30" width="23.40" height="21.80" fill="#0000cc" rx="2"/>
<text x="326.00" y="1302.30" font-size="23.5" fill="#000" letter-spacing="0.900" class="t">Spheroid P2</text>
<text x="143.50" y="1176.70" font-size="27" fill="#000" letter-spacing="0.717" stroke="#000" stroke-width="0.4">[U-<tspan font-size="20" dy="-11.8">13</tspan><tspan dy="11.8">C]glutamine</tspan></text>
<text x="360.80" y="1172.70" font-size="28.5" fill="#000" stroke="#000" stroke-width="0.4">→</text>
<text x="391.50" y="1176.70" font-size="27" fill="#000" letter-spacing="0.233" stroke="#000" stroke-width="0.4">citrate</text>
<line x1="658.05" y1="1271.88" x2="658.05" y2="1275.42" stroke="#008000" stroke-width="1.9" />
<line x1="655.55" y1="1271.88" x2="660.55" y2="1271.88" stroke="#008000" stroke-width="1.9" />
<line x1="672.75" y1="1389.02" x2="672.75" y2="1395.07" stroke="#008000" stroke-width="1.9" />
<line x1="670.25" y1="1389.02" x2="675.25" y2="1389.02" stroke="#008000" stroke-width="1.9" />
<rect x="652.60" y="1275.42" width="10.90" height="339.98" fill="#008000" />
<rect x="668.20" y="1395.97" width="9.10" height="219.43" fill="#fff" stroke="#008000" stroke-width="1.8"/>
<line x1="696.35" y1="1601.06" x2="696.35" y2="1604.09" stroke="#008000" stroke-width="1.9" />
<line x1="693.85" y1="1601.06" x2="698.85" y2="1601.06" stroke="#008000" stroke-width="1.9" />
<line x1="711.05" y1="1588.95" x2="711.05" y2="1596.01" stroke="#008000" stroke-width="1.9" />
<line x1="708.55" y1="1588.95" x2="713.55" y2="1588.95" stroke="#008000" stroke-width="1.9" />
<rect x="690.90" y="1604.09" width="10.90" height="11.31" fill="#008000" />
<rect x="706.50" y="1596.91" width="9.10" height="18.49" fill="#fff" stroke="#008000" stroke-width="1.8"/>
<line x1="734.65" y1="1509.18" x2="734.65" y2="1510.69" stroke="#008000" stroke-width="1.9" />
<line x1="732.15" y1="1509.18" x2="737.15" y2="1509.18" stroke="#008000" stroke-width="1.9" />
<line x1="749.35" y1="1455.66" x2="749.35" y2="1468.28" stroke="#008000" stroke-width="1.9" />
<line x1="746.85" y1="1455.66" x2="751.85" y2="1455.66" stroke="#008000" stroke-width="1.9" />
<rect x="729.20" y="1510.69" width="10.90" height="104.71" fill="#008000" />
<rect x="744.80" y="1469.18" width="9.10" height="146.22" fill="#fff" stroke="#008000" stroke-width="1.8"/>
<line x1="772.95" y1="1582.89" x2="772.95" y2="1588.95" stroke="#008000" stroke-width="1.9" />
<line x1="770.45" y1="1582.89" x2="775.45" y2="1582.89" stroke="#008000" stroke-width="1.9" />
<line x1="787.65" y1="1575.82" x2="787.65" y2="1583.39" stroke="#008000" stroke-width="1.9" />
<line x1="785.15" y1="1575.82" x2="790.15" y2="1575.82" stroke="#008000" stroke-width="1.9" />
<rect x="767.50" y="1588.95" width="10.90" height="26.45" fill="#008000" />
<rect x="783.10" y="1584.29" width="9.10" height="31.11" fill="#fff" stroke="#008000" stroke-width="1.8"/>
<line x1="811.25" y1="1602.07" x2="811.25" y2="1608.13" stroke="#008000" stroke-width="1.9" />
<line x1="808.75" y1="1602.07" x2="813.75" y2="1602.07" stroke="#008000" stroke-width="1.9" />
<line x1="825.95" y1="1567.24" x2="825.95" y2="1573.30" stroke="#008000" stroke-width="1.9" />
<line x1="823.45" y1="1567.24" x2="828.45" y2="1567.24" stroke="#008000" stroke-width="1.9" />
<rect x="805.80" y="1608.13" width="10.90" height="7.27" fill="#008000" />
<rect x="821.40" y="1574.20" width="9.10" height="41.20" fill="#fff" stroke="#008000" stroke-width="1.8"/>
<line x1="849.55" y1="1595.01" x2="849.55" y2="1598.03" stroke="#008000" stroke-width="1.9" />
<line x1="847.05" y1="1595.01" x2="852.05" y2="1595.01" stroke="#008000" stroke-width="1.9" />
<line x1="864.25" y1="1557.64" x2="864.25" y2="1562.69" stroke="#008000" stroke-width="1.9" />
<line x1="861.75" y1="1557.64" x2="866.75" y2="1557.64" stroke="#008000" stroke-width="1.9" />
<rect x="844.10" y="1598.03" width="10.90" height="17.37" fill="#008000" />
<rect x="859.70" y="1563.59" width="9.10" height="51.81" fill="#fff" stroke="#008000" stroke-width="1.8"/>
<line x1="887.85" y1="1610.15" x2="887.85" y2="1611.67" stroke="#008000" stroke-width="1.9" />
<line x1="885.35" y1="1610.15" x2="890.35" y2="1610.15" stroke="#008000" stroke-width="1.9" />
<line x1="902.55" y1="1602.07" x2="902.55" y2="1610.66" stroke="#008000" stroke-width="1.9" />
<line x1="900.05" y1="1602.07" x2="905.05" y2="1602.07" stroke="#008000" stroke-width="1.9" />
<rect x="882.40" y="1611.67" width="10.90" height="3.73" fill="#008000" />
<rect x="898.00" y="1611.56" width="9.10" height="3.84" fill="#fff" stroke="#008000" stroke-width="1.8"/>
<line x1="646.20" y1="1211.30" x2="646.20" y2="1616.40" stroke="#000" stroke-width="2" />
<line x1="640.50" y1="1615.40" x2="646.20" y2="1615.40" stroke="#000" stroke-width="2" />
<text x="624.43" y="1623.60" font-size="23.5" fill="#000" class="t">0</text>
<line x1="640.50" y1="1514.62" x2="646.20" y2="1514.62" stroke="#000" stroke-width="2" />
<text x="611.36" y="1522.83" font-size="23.5" fill="#000" class="t">20</text>
<line x1="640.50" y1="1413.85" x2="646.20" y2="1413.85" stroke="#000" stroke-width="2" />
<text x="611.36" y="1422.05" font-size="23.5" fill="#000" class="t">40</text>
<line x1="640.50" y1="1313.08" x2="646.20" y2="1313.08" stroke="#000" stroke-width="2" />
<text x="611.36" y="1321.28" font-size="23.5" fill="#000" class="t">60</text>
<line x1="640.50" y1="1212.30" x2="646.20" y2="1212.30" stroke="#000" stroke-width="2" />
<text x="611.36" y="1220.50" font-size="23.5" fill="#000" class="t">80</text>
<line x1="640.50" y1="1615.40" x2="915.80" y2="1615.40" stroke="#000" stroke-width="2" />
<line x1="664.70" y1="1615.40" x2="664.70" y2="1621.40" stroke="#000" stroke-width="2" />
<line x1="703.00" y1="1615.40" x2="703.00" y2="1621.40" stroke="#000" stroke-width="2" />
<line x1="741.30" y1="1615.40" x2="741.30" y2="1621.40" stroke="#000" stroke-width="2" />
<line x1="779.60" y1="1615.40" x2="779.60" y2="1621.40" stroke="#000" stroke-width="2" />
<line x1="817.90" y1="1615.40" x2="817.90" y2="1621.40" stroke="#000" stroke-width="2" />
<line x1="856.20" y1="1615.40" x2="856.20" y2="1621.40" stroke="#000" stroke-width="2" />
<line x1="894.50" y1="1615.40" x2="894.50" y2="1621.40" stroke="#000" stroke-width="2" />
<text x="635.38" y="1673.32" font-size="24.5" fill="#000" transform="rotate(-45 635.38 1673.32)" letter-spacing="0.300" class="t">m+0</text>
<text x="673.68" y="1673.32" font-size="24.5" fill="#000" transform="rotate(-45 673.68 1673.32)" letter-spacing="0.300" class="t">m+1</text>
<text x="711.98" y="1673.32" font-size="24.5" fill="#000" transform="rotate(-45 711.98 1673.32)" letter-spacing="0.300" class="t">m+2</text>
<text x="750.28" y="1673.32" font-size="24.5" fill="#000" transform="rotate(-45 750.28 1673.32)" letter-spacing="0.300" class="t">m+3</text>
<text x="788.58" y="1673.32" font-size="24.5" fill="#000" transform="rotate(-45 788.58 1673.32)" letter-spacing="0.300" class="t">m+4</text>
<text x="826.88" y="1673.32" font-size="24.5" fill="#000" transform="rotate(-45 826.88 1673.32)" letter-spacing="0.300" class="t">m+5</text>
<text x="865.18" y="1673.32" font-size="24.5" fill="#000" transform="rotate(-45 865.18 1673.32)" letter-spacing="0.300" class="t">m+6</text>
<text x="593.00" y="1473.10" font-size="23.5" fill="#000" transform="rotate(-90 593.00 1473.10)" letter-spacing="0.900" class="t">Percentage</text>
<text x="0" y="0" font-family="'DejaVu Sans',sans-serif" font-size="23.5" text-anchor="middle" fill="#008000" stroke="#fff" stroke-width="0.45" paint-order="fill" transform="translate(672.00 1374.20) scale(0.97 1)" dy="8.46">✻</text>
<text x="0" y="0" font-family="'DejaVu Sans',sans-serif" font-size="23.5" text-anchor="middle" fill="#008000" stroke="#fff" stroke-width="0.45" paint-order="fill" transform="translate(748.00 1438.90) scale(0.97 1)" dy="8.46">✻</text>
<text x="0" y="0" font-family="'DejaVu Sans',sans-serif" font-size="23.5" text-anchor="middle" fill="#008000" stroke="#fff" stroke-width="0.45" paint-order="fill" transform="translate(823.80 1550.50) scale(0.97 1)" dy="8.46">✻</text>
<text x="0" y="0" font-family="'DejaVu Sans',sans-serif" font-size="23.5" text-anchor="middle" fill="#008000" stroke="#fff" stroke-width="0.45" paint-order="fill" transform="translate(862.50 1538.60) scale(0.97 1)" dy="8.46">✻</text>
<line x1="1034.05" y1="1356.32" x2="1034.05" y2="1365.40" stroke="#008000" stroke-width="1.9" />
<line x1="1031.55" y1="1356.32" x2="1036.55" y2="1356.32" stroke="#008000" stroke-width="1.9" />
<line x1="1048.25" y1="1264.04" x2="1048.25" y2="1271.10" stroke="#008000" stroke-width="1.9" />
<line x1="1045.75" y1="1264.04" x2="1050.75" y2="1264.04" stroke="#008000" stroke-width="1.9" />
<rect x="1028.60" y="1365.40" width="10.90" height="249.80" fill="#008000" />
<rect x="1043.70" y="1272.00" width="9.10" height="343.20" fill="#fff" stroke="#008000" stroke-width="1.8"/>
<line x1="1072.25" y1="1590.80" x2="1072.25" y2="1602.90" stroke="#008000" stroke-width="1.9" />
<line x1="1069.75" y1="1590.80" x2="1074.75" y2="1590.80" stroke="#008000" stroke-width="1.9" />
<line x1="1086.45" y1="1597.35" x2="1086.45" y2="1604.41" stroke="#008000" stroke-width="1.9" />
<line x1="1083.95" y1="1597.35" x2="1088.95" y2="1597.35" stroke="#008000" stroke-width="1.9" />
<rect x="1066.80" y="1602.90" width="10.90" height="12.30" fill="#008000" />
<rect x="1081.90" y="1605.31" width="9.10" height="9.89" fill="#fff" stroke="#008000" stroke-width="1.8"/>
<line x1="1110.45" y1="1572.14" x2="1110.45" y2="1578.19" stroke="#008000" stroke-width="1.9" />
<line x1="1107.95" y1="1572.14" x2="1112.95" y2="1572.14" stroke="#008000" stroke-width="1.9" />
<line x1="1124.65" y1="1576.17" x2="1124.65" y2="1585.75" stroke="#008000" stroke-width="1.9" />
<line x1="1122.15" y1="1576.17" x2="1127.15" y2="1576.17" stroke="#008000" stroke-width="1.9" />
<rect x="1105.00" y="1578.19" width="10.90" height="37.01" fill="#008000" />
<rect x="1120.10" y="1586.65" width="9.10" height="28.55" fill="#fff" stroke="#008000" stroke-width="1.8"/>
<line x1="1148.65" y1="1560.54" x2="1148.65" y2="1562.05" stroke="#008000" stroke-width="1.9" />
<line x1="1146.15" y1="1560.54" x2="1151.15" y2="1560.54" stroke="#008000" stroke-width="1.9" />
<line x1="1162.85" y1="1576.17" x2="1162.85" y2="1585.75" stroke="#008000" stroke-width="1.9" />
<line x1="1160.35" y1="1576.17" x2="1165.35" y2="1576.17" stroke="#008000" stroke-width="1.9" />
<rect x="1143.20" y="1562.05" width="10.90" height="53.15" fill="#008000" />
<rect x="1158.30" y="1586.65" width="9.10" height="28.55" fill="#fff" stroke="#008000" stroke-width="1.8"/>
<line x1="1186.85" y1="1543.40" x2="1186.85" y2="1553.48" stroke="#008000" stroke-width="1.9" />
<line x1="1184.35" y1="1543.40" x2="1189.35" y2="1543.40" stroke="#008000" stroke-width="1.9" />
<line x1="1201.05" y1="1563.57" x2="1201.05" y2="1564.58" stroke="#008000" stroke-width="1.9" />
<line x1="1198.55" y1="1563.57" x2="1203.55" y2="1563.57" stroke="#008000" stroke-width="1.9" />
<rect x="1181.40" y="1553.48" width="10.90" height="61.72" fill="#008000" />
<rect x="1196.50" y="1565.48" width="9.10" height="49.73" fill="#fff" stroke="#008000" stroke-width="1.8"/>
<line x1="1225.05" y1="1498.01" x2="1225.05" y2="1504.57" stroke="#008000" stroke-width="1.9" />
<line x1="1222.55" y1="1498.01" x2="1227.55" y2="1498.01" stroke="#008000" stroke-width="1.9" />
<line x1="1239.25" y1="1559.53" x2="1239.25" y2="1566.59" stroke="#008000" stroke-width="1.9" />
<line x1="1236.75" y1="1559.53" x2="1241.75" y2="1559.53" stroke="#008000" stroke-width="1.9" />
<rect x="1219.60" y="1504.57" width="10.90" height="110.63" fill="#008000" />
<rect x="1234.70" y="1567.49" width="9.10" height="47.71" fill="#fff" stroke="#008000" stroke-width="1.8"/>
<line x1="1263.25" y1="1610.97" x2="1263.25" y2="1613.49" stroke="#008000" stroke-width="1.9" />
<line x1="1260.75" y1="1610.97" x2="1265.75" y2="1610.97" stroke="#008000" stroke-width="1.9" />
<line x1="1277.45" y1="1612.98" x2="1277.45" y2="1613.99" stroke="#008000" stroke-width="1.9" />
<line x1="1274.95" y1="1612.98" x2="1279.95" y2="1612.98" stroke="#008000" stroke-width="1.9" />
<rect x="1257.80" y="1613.49" width="10.90" height="1.71" fill="#008000" />
<rect x="1272.00" y="1613.99" width="10.90" height="1.21" fill="#008000" />
<line x1="1023.00" y1="1211.60" x2="1023.00" y2="1616.20" stroke="#000" stroke-width="2" />
<line x1="1017.30" y1="1615.20" x2="1023.00" y2="1615.20" stroke="#000" stroke-width="2" />
<text x="1000.63" y="1623.40" font-size="23.5" fill="#000" class="t">0</text>
<line x1="1017.30" y1="1514.55" x2="1023.00" y2="1514.55" stroke="#000" stroke-width="2" />
<text x="987.56" y="1522.75" font-size="23.5" fill="#000" class="t">20</text>
<line x1="1017.30" y1="1413.90" x2="1023.00" y2="1413.90" stroke="#000" stroke-width="2" />
<text x="987.56" y="1422.10" font-size="23.5" fill="#000" class="t">40</text>
<line x1="1017.30" y1="1313.25" x2="1023.00" y2="1313.25" stroke="#000" stroke-width="2" />
<text x="987.56" y="1321.45" font-size="23.5" fill="#000" class="t">60</text>
<line x1="1017.30" y1="1212.60" x2="1023.00" y2="1212.60" stroke="#000" stroke-width="2" />
<text x="987.56" y="1220.80" font-size="23.5" fill="#000" class="t">80</text>
<line x1="1017.30" y1="1615.20" x2="1291.20" y2="1615.20" stroke="#000" stroke-width="2" />
<line x1="1041.40" y1="1615.20" x2="1041.40" y2="1621.20" stroke="#000" stroke-width="2" />
<line x1="1079.60" y1="1615.20" x2="1079.60" y2="1621.20" stroke="#000" stroke-width="2" />
<line x1="1117.80" y1="1615.20" x2="1117.80" y2="1621.20" stroke="#000" stroke-width="2" />
<line x1="1156.00" y1="1615.20" x2="1156.00" y2="1621.20" stroke="#000" stroke-width="2" />
<line x1="1194.20" y1="1615.20" x2="1194.20" y2="1621.20" stroke="#000" stroke-width="2" />
<line x1="1232.40" y1="1615.20" x2="1232.40" y2="1621.20" stroke="#000" stroke-width="2" />
<line x1="1270.60" y1="1615.20" x2="1270.60" y2="1621.20" stroke="#000" stroke-width="2" />
<text x="1012.08" y="1673.12" font-size="24.5" fill="#000" transform="rotate(-45 1012.08 1673.12)" letter-spacing="0.300" class="t">m+0</text>
<text x="1050.28" y="1673.12" font-size="24.5" fill="#000" transform="rotate(-45 1050.28 1673.12)" letter-spacing="0.300" class="t">m+1</text>
<text x="1088.48" y="1673.12" font-size="24.5" fill="#000" transform="rotate(-45 1088.48 1673.12)" letter-spacing="0.300" class="t">m+2</text>
<text x="1126.68" y="1673.12" font-size="24.5" fill="#000" transform="rotate(-45 1126.68 1673.12)" letter-spacing="0.300" class="t">m+3</text>
<text x="1164.88" y="1673.12" font-size="24.5" fill="#000" transform="rotate(-45 1164.88 1673.12)" letter-spacing="0.300" class="t">m+4</text>
<text x="1203.08" y="1673.12" font-size="24.5" fill="#000" transform="rotate(-45 1203.08 1673.12)" letter-spacing="0.300" class="t">m+5</text>
<text x="1241.28" y="1673.12" font-size="24.5" fill="#000" transform="rotate(-45 1241.28 1673.12)" letter-spacing="0.300" class="t">m+6</text>
<text x="973.00" y="1473.10" font-size="23.5" fill="#000" transform="rotate(-90 973.00 1473.10)" letter-spacing="0.900" class="t">Percentage</text>
<text x="0" y="0" font-family="'DejaVu Sans',sans-serif" font-size="23.5" text-anchor="middle" fill="#008000" stroke="#fff" stroke-width="0.45" paint-order="fill" transform="translate(1048.80 1246.00) scale(0.97 1)" dy="8.46">✻</text>
<text x="0" y="0" font-family="'DejaVu Sans',sans-serif" font-size="23.5" text-anchor="middle" fill="#008000" stroke="#fff" stroke-width="0.45" paint-order="fill" transform="translate(1162.20 1557.20) scale(0.97 1)" dy="8.46">✻</text>
<text x="0" y="0" font-family="'DejaVu Sans',sans-serif" font-size="23.5" text-anchor="middle" fill="#008000" stroke="#fff" stroke-width="0.45" paint-order="fill" transform="translate(1239.20 1542.80) scale(0.97 1)" dy="8.46">✻</text>
<rect x="755.70" y="1230.30" width="22.30" height="21.80" fill="#008000" rx="2"/>
<text x="789.40" y="1249.20" font-size="23.5" fill="#000" letter-spacing="0.900" class="t">Control</text>
<rect x="756.70" y="1261.30" width="20.30" height="19.80" fill="#fff" stroke="#008000" stroke-width="1.8"/>
<text x="789.40" y="1279.50" font-size="23.5" fill="#000" letter-spacing="0.900" class="t">DCA</text>
<text x="631.50" y="1171.70" font-size="27" fill="#000" letter-spacing="0.758" stroke="#000" stroke-width="0.4">[U-<tspan font-size="20" dy="-11.8">13</tspan><tspan dy="11.8">C]glucose</tspan></text>
<text x="821.90" y="1167.70" font-size="28.5" fill="#000" stroke="#000" stroke-width="0.4">→</text>
<text x="852.10" y="1171.70" font-size="27" fill="#000" letter-spacing="0.433" stroke="#000" stroke-width="0.4">citrate</text>
<text x="995.20" y="1174.60" font-size="27" fill="#000" letter-spacing="0.717" stroke="#000" stroke-width="0.4">[U-<tspan font-size="20" dy="-11.8">13</tspan><tspan dy="11.8">C]glutamine</tspan></text>
<text x="1211.20" y="1170.60" font-size="28.5" fill="#000" stroke="#000" stroke-width="0.4">→</text>
<text x="1242.00" y="1174.60" font-size="27" fill="#000" letter-spacing="0.233" stroke="#000" stroke-width="0.4">citrate</text>
<rect x="1319.70" y="1394.50" width="162.70" height="32.30" fill="#ececec" filter="url(#bl2)"/>
<rect x="1320.70" y="1438.90" width="162.30" height="31.90" fill="#ececec" filter="url(#bl2)"/>
<rect x="1322.70" y="1482.60" width="162.60" height="32.00" fill="#ececec" filter="url(#bl2)"/>
<rect x="1322.00" y="1527.00" width="162.70" height="31.90" fill="#ececec" filter="url(#bl2)"/>
<rect x="1409.7" y="1407.9" width="29.2" height="5.5" rx="2.7" fill="#000" opacity="1" filter="url(#bl)" transform="rotate(-2.5 1424.3 1410.6)"/>
<rect x="1449.5" y="1407.3" width="26.7" height="4.7" rx="2.4" fill="#555" opacity="0.8" filter="url(#bl)" transform="rotate(-1 1462.8 1409.7)"/>
<rect x="1328.8" y="1450.9" width="29.9" height="5.8" rx="2.9" fill="#222" opacity="0.9" filter="url(#bl)" transform="rotate(-2 1343.8 1453.8)"/>
<rect x="1370.5" y="1449.8" width="29.7" height="5.5" rx="2.7" fill="#333" opacity="0.85" filter="url(#bl)" transform="rotate(1 1385.3 1452.5)"/>
<rect x="1410.8" y="1450.4" width="29.9" height="8.0" rx="4.0" fill="#000" opacity="1" filter="url(#bl)"/>
<rect x="1450.1" y="1451.2" width="28.6" height="6.9" rx="3.5" fill="#000" opacity="1" filter="url(#bl)"/>
<rect x="1330.3" y="1493.6" width="27.9" height="3.5" rx="1.8" fill="#444" opacity="0.75" filter="url(#bl)"/>
<rect x="1371.8" y="1494.2" width="27.9" height="3.5" rx="1.8" fill="#555" opacity="0.7" filter="url(#bl)" transform="rotate(2 1385.8 1496.0)"/>
<rect x="1411.2" y="1495.5" width="30.0" height="5.8" rx="2.9" fill="#000" opacity="1" filter="url(#bl)" transform="rotate(1.5 1426.2 1498.4)"/>
<rect x="1450.6" y="1498.3" width="28.0" height="4.7" rx="2.4" fill="#111" opacity="1" filter="url(#bl)" transform="rotate(1 1464.6 1500.7)"/>
<rect x="1325.4" y="1536.6" width="35.8" height="6.4" rx="3.2" fill="#000" opacity="1" filter="url(#bl)"/>
<rect x="1368.8" y="1538.0" width="34.9" height="6.4" rx="3.2" fill="#000" opacity="1" filter="url(#bl)" transform="rotate(1.5 1386.2 1541.2)"/>
<rect x="1411.2" y="1539.2" width="33.0" height="6.1" rx="3.0" fill="#000" opacity="1" filter="url(#bl)"/>
<rect x="1450.6" y="1539.2" width="30.9" height="6.1" rx="3.0" fill="#000" opacity="1" filter="url(#bl)"/>
<text x="1341.22" y="1378.00" font-size="24.5" fill="#000" stroke="#000" stroke-width="0.4">-</text>
<text x="1377.25" y="1378.00" font-size="24.5" fill="#000" stroke="#000" stroke-width="0.4">+</text>
<text x="1421.72" y="1378.00" font-size="24.5" fill="#000" stroke="#000" stroke-width="0.4">-</text>
<text x="1457.65" y="1378.00" font-size="24.5" fill="#000" stroke="#000" stroke-width="0.4">+</text>
<text x="1493.20" y="1378.50" font-size="24.5" fill="#000" letter-spacing="0.300" stroke="#000" stroke-width="0.4">DCA</text>
<text x="1497.35" y="1415.20" font-size="24.5" fill="#000" letter-spacing="0.433" stroke="#000" stroke-width="0.4">pPDH</text>
<text x="1504.17" y="1460.00" font-size="24.5" fill="#000" letter-spacing="0.433" stroke="#000" stroke-width="0.4">tPDH</text>
<text x="1499.70" y="1506.30" font-size="24.5" fill="#000" letter-spacing="0.100" stroke="#000" stroke-width="0.4">PDK1</text>
<text x="1503.00" y="1549.70" font-size="24.5" fill="#000" letter-spacing="0.300" stroke="#000" stroke-width="0.4">Actin</text>
<text x="1367.00" y="1355.00" font-size="24" fill="#000" transform="rotate(-40.5 1367.00 1355.00)" letter-spacing="0.400" stroke="#000" stroke-width="0.4">Monolayer</text>
<text x="1440.00" y="1355.00" font-size="24" fill="#000" transform="rotate(-40.5 1440.00 1355.00)" letter-spacing="0.400" stroke="#000" stroke-width="0.4">Spheroid</text>
</svg>
</body></html>
